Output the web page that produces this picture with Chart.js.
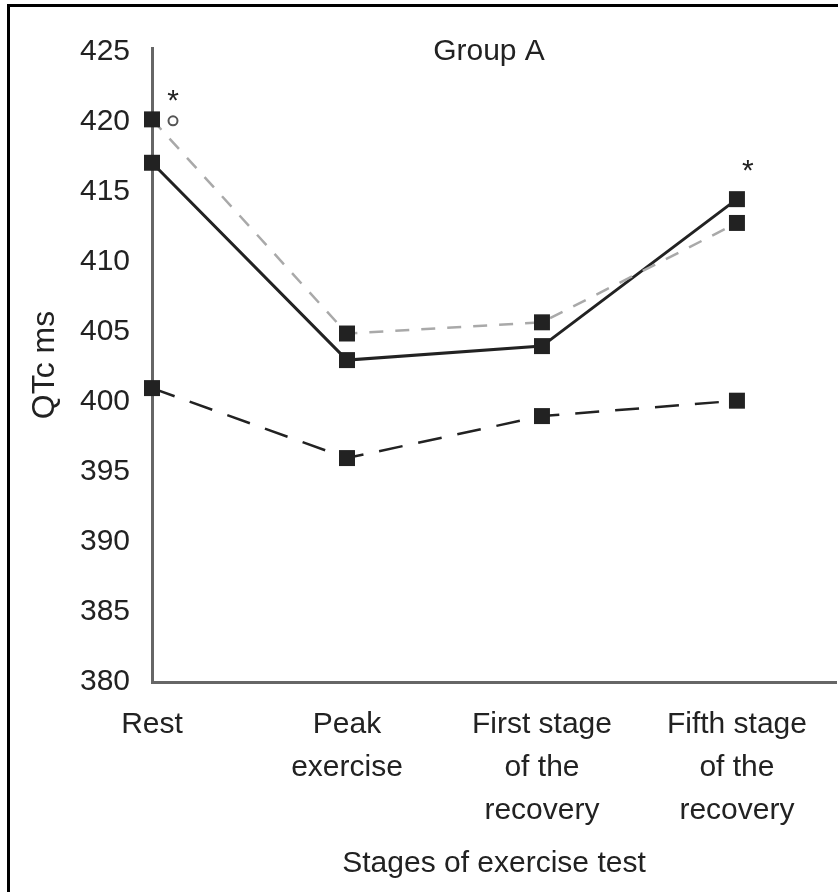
<!DOCTYPE html>
<html>
<head>
<meta charset="utf-8">
<title>QTc – Group A</title>
<script src="https://cdn.jsdelivr.net/npm/chart.js@4.4.1/dist/chart.umd.min.js"></script>
<style>
  html, body { margin: 0; padding: 0; background: #fff; }
  #wrap { position: relative; width: 838px; height: 892px; overflow: hidden; }
  #frame {
    position: absolute; left: 7px; top: 4px; right: -10px; bottom: -10px;
    border-top: 3px solid #000; border-left: 3px solid #000;
  }
  #qtc { position: absolute; left: 0; top: 0; }
</style>
</head>
<body>
<div id="wrap">
  <div id="frame"></div>
  <canvas id="qtc" width="838" height="892"></canvas>
</div>
<script>
// ── Data ──────────────────────────────────────────────────────────────────────
const stages = [
  ["Rest"],
  ["Peak", "exercise"],
  ["First stage", "of the", "recovery"],
  ["Fifth stage", "of the", "recovery"],
];
const qtcGray  = [420.2, 404.9, 405.7, 412.8];   // light dashed
const qtcSolid = [417.1, 403.0, 404.0, 414.5];   // solid
const qtcLong  = [401.0, 396.0, 399.0, 400.1];   // long dashed
const yMin = 380, yMax = 425, yStep = 5;

// significance marks: stage index, QTc level, symbol
const notes = [
  { stage: 0, value: 421.9, symbol: "*" },
  { stage: 0, value: 420.1, symbol: "o" },
  { stage: 3, value: 416.9, symbol: "*" },
];

const FONT = '"Liberation Sans", Arial, Helvetica, sans-serif';
const INK = "#222";
const AXIS = "#666";

const toPoints = vals => vals.map((v, i) => ({ x: i, y: v }));

// ── Marks drawn on top of the lines ─────────────────────────────────────────
const notesPlugin = {
  id: "notes",
  afterDatasetsDraw(chart) {
    const { ctx, scales: { x, y } } = chart;
    ctx.save();
    ctx.fillStyle = INK;
    ctx.textAlign = "center";

    ctx.font = `30px ${FONT}`;
    ctx.textBaseline = "alphabetic";
    ctx.fillText("Group A", 489, 60);

    notes.forEach(n => {
      const dx = n.stage === 0 ? 21 : 11;
      const px = x.getPixelForValue(n.stage) + dx;
      const py = y.getPixelForValue(n.value);
      if (n.symbol === "o") {
        ctx.beginPath();
        ctx.arc(px, py, 4.5, 0, Math.PI * 2);
        ctx.lineWidth = 2;
        ctx.strokeStyle = "#555";
        ctx.stroke();
      } else {
        ctx.font = `30px ${FONT}`;
        const m = ctx.measureText(n.symbol);
        const base = py + (m.actualBoundingBoxAscent - m.actualBoundingBoxDescent) / 2;
        ctx.fillText(n.symbol, px, base);
      }
    });
    ctx.restore();
  },
};

const markerStyle = {
  pointStyle: "rect",
  pointRadius: 11.3,
  pointHoverRadius: 11.3,
  pointBackgroundColor: INK,
  pointBorderColor: INK,
  pointBorderWidth: 0,
  tension: 0,
  fill: false,
  clip: false,
};

new Chart(document.getElementById("qtc"), {
  type: "line",
  data: {
    datasets: [
      { label: "gray", data: toPoints(qtcGray), borderColor: "#a9a9a9", borderWidth: 2.5,
        borderDash: [14, 12], ...markerStyle },
      { label: "solid", data: toPoints(qtcSolid), borderColor: INK, borderWidth: 3,
        ...markerStyle },
      { label: "long", data: toPoints(qtcLong), borderColor: INK, borderWidth: 2.5,
        borderDash: [24, 16], ...markerStyle },
    ],
  },
  options: {
    responsive: false,
    animation: false,
    events: [],
    layout: { autoPadding: false, padding: { top: 48, right: 2, bottom: 0, left: 0 } },
    plugins: { legend: { display: false }, tooltip: { enabled: false } },
    scales: {
      x: {
        type: "linear",
        min: 0,
        max: 3.508,
        grid: { display: false },
        border: { display: true, color: AXIS, width: 3 },
        ticks: {
          stepSize: 1,
          includeBounds: false,
          autoSkip: false,
          maxRotation: 0,
          padding: 13,
          color: INK,
          font: { family: FONT, size: 30, lineHeight: 1.433 },
          callback: v => Number.isInteger(v) && stages[v] ? stages[v] : "",
        },
        title: {
          display: true,
          text: "Stages of exercise test",
          color: INK,
          font: { family: FONT, size: 30, lineHeight: 1.2 },
          padding: { top: 0, bottom: 10 },
        },
        afterFit: s => {
          s.height = 892 - 682;
          s.paddingLeft = 0;
          s.paddingRight = 0;
        },
      },
      y: {
        min: yMin,
        max: yMax + 0.3,
        grid: { display: false },
        border: { display: true, color: AXIS, width: 3 },
        ticks: {
          stepSize: yStep,
          includeBounds: false,
          padding: 14,
          color: INK,
          font: { family: FONT, size: 30 },
        },
        title: {
          display: true,
          text: "QTc ms",
          color: INK,
          font: { family: FONT, size: 32, lineHeight: 1.2 },
          padding: { top: 26, bottom: 0 },
        },
        afterFit: s => { s.width = 152; },
      },
    },
  },
  plugins: [notesPlugin],
});
</script>
</body>
</html>
